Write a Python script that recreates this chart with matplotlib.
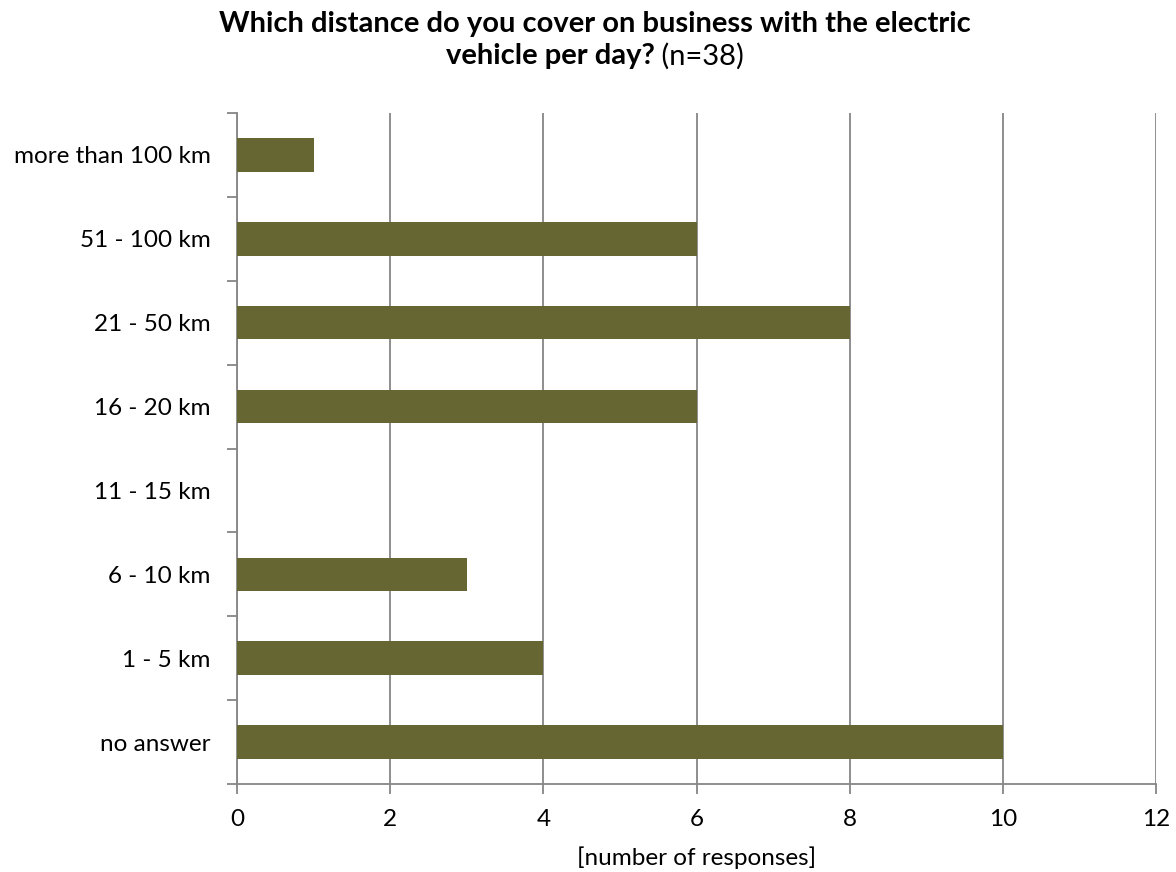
import matplotlib
matplotlib.use("Agg")
import matplotlib.pyplot as plt

categories = ["no answer", "1 - 5 km", "6 - 10 km", "11 - 15 km", "16 - 20 km",
              "21 - 50 km", "51 - 100 km", "more than 100 km"]
responses = [10, 4, 3, 0, 6, 8, 6, 1]
x_ticks = [0, 2, 4, 6, 8, 10, 12]

title_bold_1 = "Which distance do you cover on business with the electric"
title_bold_2 = "vehicle per day?"
title_normal_2 = " (n=38)"
x_label = "[number of responses]"

FONT = "Lato"
plt.rcParams["font.family"] = [FONT, "DejaVu Sans"]

W, H, DPI = 1176, 872, 100
fig = plt.figure(figsize=(W / DPI, H / DPI), dpi=DPI)
left, right, top, bottom = 237, 1156, 113, 784
ax = fig.add_axes([left / W, 1 - bottom / H, (right - left) / W, (bottom - top) / H])

axis_col = "#868686"
bar_col = "#666633"
FS = 17.5

y = list(range(len(categories)))
ax.barh(y, responses, height=0.4, color=bar_col, zorder=3)
ax.set_ylim(-0.5, len(categories) - 0.5)
ax.set_xlim(0, 12)

ax.set_xticks(x_ticks)
ax.set_xticklabels([str(t) for t in x_ticks], fontsize=FS)
ax.set_yticks(y)
ax.set_yticklabels(categories, fontsize=FS)
ax.tick_params(axis="y", length=0, pad=19)
ax.set_yticks([i - 0.5 for i in range(len(categories) + 1)], minor=True)
ax.tick_params(axis="y", which="minor", length=7, color=axis_col, width=1.3, direction="out")
ax.tick_params(axis="x", length=7, color=axis_col, width=1.3, direction="out", pad=11)

ax.grid(axis="x", color=axis_col, linewidth=1.3, zorder=0)
for s in ["top", "right"]:
    ax.spines[s].set_visible(False)
for s in ["left", "bottom"]:
    ax.spines[s].set_color(axis_col)
    ax.spines[s].set_linewidth(1.3)

ax.set_xlabel(x_label, fontsize=FS, labelpad=12)

# Title with mixed weights
fig.canvas.draw()
r = fig.canvas.get_renderer()
cx = 595 / W
TFS = 21
fig.text(cx, 1 - 24 / H, title_bold_1, ha="center", va="center", fontsize=TFS, fontweight="bold")
t1 = fig.text(0, 1 - 56 / H, title_bold_2, ha="left", va="center", fontsize=TFS, fontweight="bold")
t2 = fig.text(0, 1 - 56 / H, title_normal_2, ha="left", va="center", fontsize=TFS)
w1 = t1.get_window_extent(r).width
w2 = t2.get_window_extent(r).width
start = cx * W - (w1 + w2) / 2
t1.set_x(start / W)
t2.set_x((start + w1) / W)

fig.savefig("out.png", dpi=DPI)
